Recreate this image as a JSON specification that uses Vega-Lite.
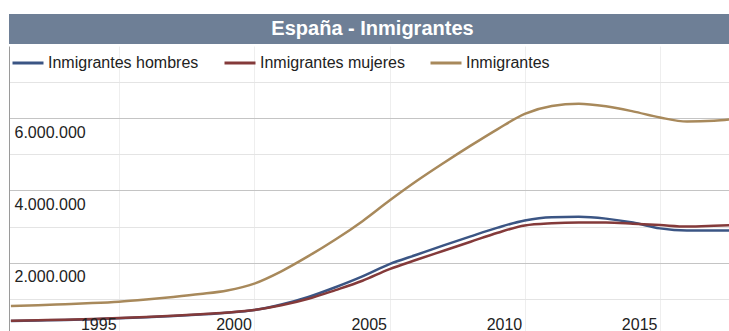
{
  "$schema": "https://vega.github.io/schema/vega-lite/v6.json",
  "padding": {"left": 8, "top": 14, "right": 0, "bottom": 0},
  "background": "white",
  "spacing": 2,
  "bounds": "flush",
  "resolve": {"scale": {"color": "independent"}, "legend": {"color": "independent"}},
  "config": {
    "font": "Liberation Sans",
    "locale": {"number": {"decimal": ",", "thousands": ".", "grouping": [3], "currency": ["", " €"]}},
    "view": {"stroke": null}
  },
  "datasets": {
    "series": [
      {"anio": 1991, "serie": "Inmigrantes hombres", "valor": 385000},
      {"anio": 1992, "serie": "Inmigrantes hombres", "valor": 400000},
      {"anio": 1993, "serie": "Inmigrantes hombres", "valor": 415000},
      {"anio": 1994, "serie": "Inmigrantes hombres", "valor": 435000},
      {"anio": 1995, "serie": "Inmigrantes hombres", "valor": 460000},
      {"anio": 1996, "serie": "Inmigrantes hombres", "valor": 490000},
      {"anio": 1997, "serie": "Inmigrantes hombres", "valor": 525000},
      {"anio": 1998, "serie": "Inmigrantes hombres", "valor": 565000},
      {"anio": 1999, "serie": "Inmigrantes hombres", "valor": 615000},
      {"anio": 2000, "serie": "Inmigrantes hombres", "valor": 690000},
      {"anio": 2001, "serie": "Inmigrantes hombres", "valor": 840000},
      {"anio": 2002, "serie": "Inmigrantes hombres", "valor": 1050000},
      {"anio": 2003, "serie": "Inmigrantes hombres", "valor": 1320000},
      {"anio": 2004, "serie": "Inmigrantes hombres", "valor": 1620000},
      {"anio": 2005, "serie": "Inmigrantes hombres", "valor": 1960000},
      {"anio": 2006, "serie": "Inmigrantes hombres", "valor": 2220000},
      {"anio": 2007, "serie": "Inmigrantes hombres", "valor": 2480000},
      {"anio": 2008, "serie": "Inmigrantes hombres", "valor": 2730000},
      {"anio": 2009, "serie": "Inmigrantes hombres", "valor": 2970000},
      {"anio": 2010, "serie": "Inmigrantes hombres", "valor": 3170000},
      {"anio": 2011, "serie": "Inmigrantes hombres", "valor": 3260000},
      {"anio": 2012, "serie": "Inmigrantes hombres", "valor": 3270000},
      {"anio": 2013, "serie": "Inmigrantes hombres", "valor": 3220000},
      {"anio": 2014, "serie": "Inmigrantes hombres", "valor": 3110000},
      {"anio": 2015, "serie": "Inmigrantes hombres", "valor": 2950000},
      {"anio": 2016, "serie": "Inmigrantes hombres", "valor": 2890000},
      {"anio": 2017, "serie": "Inmigrantes hombres", "valor": 2890000},
      {"anio": 2018, "serie": "Inmigrantes hombres", "valor": 2900000},
      {"anio": 1991, "serie": "Inmigrantes mujeres", "valor": 390000},
      {"anio": 1992, "serie": "Inmigrantes mujeres", "valor": 405000},
      {"anio": 1993, "serie": "Inmigrantes mujeres", "valor": 420000},
      {"anio": 1994, "serie": "Inmigrantes mujeres", "valor": 440000},
      {"anio": 1995, "serie": "Inmigrantes mujeres", "valor": 465000},
      {"anio": 1996, "serie": "Inmigrantes mujeres", "valor": 495000},
      {"anio": 1997, "serie": "Inmigrantes mujeres", "valor": 530000},
      {"anio": 1998, "serie": "Inmigrantes mujeres", "valor": 570000},
      {"anio": 1999, "serie": "Inmigrantes mujeres", "valor": 620000},
      {"anio": 2000, "serie": "Inmigrantes mujeres", "valor": 690000},
      {"anio": 2001, "serie": "Inmigrantes mujeres", "valor": 820000},
      {"anio": 2002, "serie": "Inmigrantes mujeres", "valor": 1000000},
      {"anio": 2003, "serie": "Inmigrantes mujeres", "valor": 1240000},
      {"anio": 2004, "serie": "Inmigrantes mujeres", "valor": 1500000},
      {"anio": 2005, "serie": "Inmigrantes mujeres", "valor": 1820000},
      {"anio": 2006, "serie": "Inmigrantes mujeres", "valor": 2080000},
      {"anio": 2007, "serie": "Inmigrantes mujeres", "valor": 2330000},
      {"anio": 2008, "serie": "Inmigrantes mujeres", "valor": 2580000},
      {"anio": 2009, "serie": "Inmigrantes mujeres", "valor": 2830000},
      {"anio": 2010, "serie": "Inmigrantes mujeres", "valor": 3030000},
      {"anio": 2011, "serie": "Inmigrantes mujeres", "valor": 3090000},
      {"anio": 2012, "serie": "Inmigrantes mujeres", "valor": 3110000},
      {"anio": 2013, "serie": "Inmigrantes mujeres", "valor": 3110000},
      {"anio": 2014, "serie": "Inmigrantes mujeres", "valor": 3080000},
      {"anio": 2015, "serie": "Inmigrantes mujeres", "valor": 3040000},
      {"anio": 2016, "serie": "Inmigrantes mujeres", "valor": 3000000},
      {"anio": 2017, "serie": "Inmigrantes mujeres", "valor": 3020000},
      {"anio": 2018, "serie": "Inmigrantes mujeres", "valor": 3050000},
      {"anio": 1991, "serie": "Inmigrantes", "valor": 800000},
      {"anio": 1992, "serie": "Inmigrantes", "valor": 820000},
      {"anio": 1993, "serie": "Inmigrantes", "valor": 850000},
      {"anio": 1994, "serie": "Inmigrantes", "valor": 880000},
      {"anio": 1995, "serie": "Inmigrantes", "valor": 920000},
      {"anio": 1996, "serie": "Inmigrantes", "valor": 980000},
      {"anio": 1997, "serie": "Inmigrantes", "valor": 1050000},
      {"anio": 1998, "serie": "Inmigrantes", "valor": 1130000},
      {"anio": 1999, "serie": "Inmigrantes", "valor": 1230000},
      {"anio": 2000, "serie": "Inmigrantes", "valor": 1420000},
      {"anio": 2001, "serie": "Inmigrantes", "valor": 1760000},
      {"anio": 2002, "serie": "Inmigrantes", "valor": 2180000},
      {"anio": 2003, "serie": "Inmigrantes", "valor": 2640000},
      {"anio": 2004, "serie": "Inmigrantes", "valor": 3150000},
      {"anio": 2005, "serie": "Inmigrantes", "valor": 3720000},
      {"anio": 2006, "serie": "Inmigrantes", "valor": 4260000},
      {"anio": 2007, "serie": "Inmigrantes", "valor": 4760000},
      {"anio": 2008, "serie": "Inmigrantes", "valor": 5240000},
      {"anio": 2009, "serie": "Inmigrantes", "valor": 5700000},
      {"anio": 2010, "serie": "Inmigrantes", "valor": 6120000},
      {"anio": 2011, "serie": "Inmigrantes", "valor": 6340000},
      {"anio": 2012, "serie": "Inmigrantes", "valor": 6400000},
      {"anio": 2013, "serie": "Inmigrantes", "valor": 6330000},
      {"anio": 2014, "serie": "Inmigrantes", "valor": 6190000},
      {"anio": 2015, "serie": "Inmigrantes", "valor": 6020000},
      {"anio": 2016, "serie": "Inmigrantes", "valor": 5910000},
      {"anio": 2017, "serie": "Inmigrantes", "valor": 5930000},
      {"anio": 2018, "serie": "Inmigrantes", "valor": 6000000}
    ]
  },
  "vconcat": [
    {
      "width": 721,
      "height": 30,
      "view": {"fill": "#6e7f96", "stroke": null},
      "data": {"values": [{"t": "España - Inmigrantes"}]},
      "mark": {"type": "text", "color": "white", "fontSize": 20, "fontWeight": "bold", "dx": 3, "baseline": "middle"},
      "encoding": {"text": {"field": "t", "type": "nominal"}}
    },
    {
      "width": 721,
      "height": 285,
      "data": {"name": "series"},
      "layer": [
        {
          "mark": {"type": "point", "opacity": 0},
          "encoding": {
            "x": {
              "field": "anio", "type": "quantitative",
              "scale": {"domain": [1990.93, 2017.59], "nice": false, "zero": false},
              "axis": {"orient": "bottom", "values": [1995, 2000, 2005, 2010, 2015], "grid": false, "ticks": false, "domain": false, "format": "d", "labelAlign": "right", "labelOffset": -3, "labelPadding": -15, "labelBaseline": "top", "labelFontSize": 16, "labelColor": "#222222", "labelOverlap": false, "labelFlush": false, "zindex": 1, "title": null}
            },
            "y": {
              "field": "valor", "type": "quantitative",
              "scale": {"domain": [108000, 8000000], "nice": false, "zero": false},
              "axis": {
                "orient": "left",
                "values": [1000000, 2000000, 3000000, 4000000, 5000000, 6000000, 7000000],
                "grid": true,
                "gridColor": {"condition": {"test": "datum.value % 2000000 === 0", "value": "#c4c4c4"}, "value": "#e4e4e4"},
                "ticks": false,
                "domain": true,
                "domainColor": "#9a9a9a",
                "format": ",d",
                "labelExpr": "datum.value % 2000000 === 0 ? datum.label : ''",
                "labelAlign": "left",
                "labelBaseline": "top",
                "labelPadding": -5,
                "labelOffset": 6,
                "labelFontSize": 16,
                "labelColor": "#222222",
                "labelOverlap": false,
                "title": null
              }
            }
          }
        },
        {
          "mark": {"type": "line", "interpolate": "monotone", "strokeWidth": 2.5, "clip": true},
          "encoding": {
            "x": {
              "field": "anio", "type": "quantitative",
              "axis": {"orient": "top", "values": [1995, 2000, 2005, 2010, 2015], "labels": false, "ticks": false, "domain": false, "grid": true, "gridColor": "#eeeeee", "title": null}
            },
            "y": {"field": "valor", "type": "quantitative"},
            "color": {
              "field": "serie", "type": "nominal",
              "scale": {"domain": ["Inmigrantes hombres", "Inmigrantes mujeres", "Inmigrantes"], "range": ["#3b5584", "#843a3a", "#a8895b"]},
              "legend": {
                "orient": "none", "legendX": 2, "legendY": 0, "direction": "horizontal", "columns": 3,
                "title": null, "symbolType": "stroke", "symbolSize": 961, "symbolStrokeWidth": 3,
                "labelFontSize": 16, "labelColor": "#222222", "labelOffset": 3, "columnPadding": 19
              }
            }
          }
        }
      ]
    }
  ]
}
